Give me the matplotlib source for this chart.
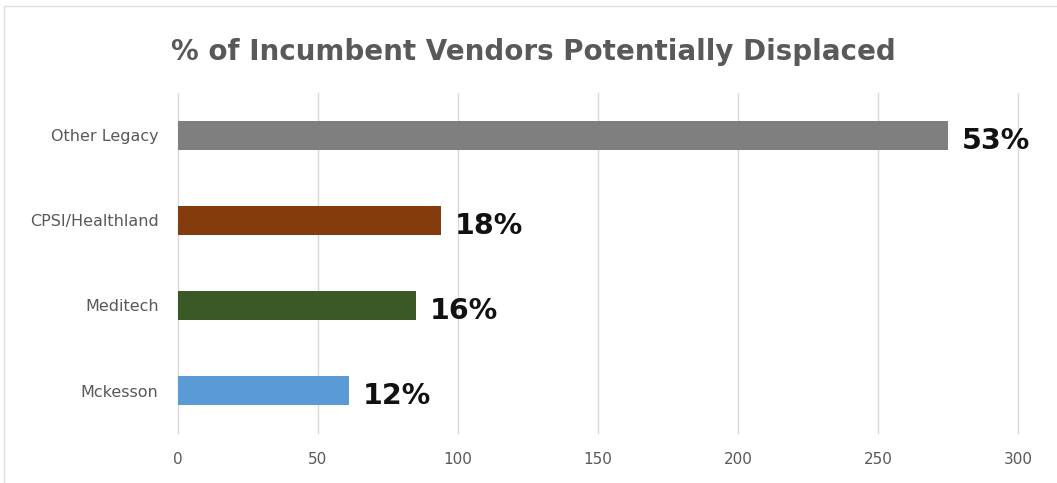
import matplotlib
matplotlib.use("Agg")
import matplotlib.pyplot as plt
from matplotlib.patches import Rectangle

# data (axis units, bottom -> top)
vendors = ["Mckesson", "Meditech", "CPSI/Healthland", "Other Legacy"]
bar_values = [61, 85, 94, 275]
pct_labels = ["12%", "16%", "18%", "53%"]
colors = ["#5b9bd5", "#3b5926", "#843c0c", "#7f7f7f"]
xticks = [0, 50, 100, 150, 200, 250, 300]

fig = plt.figure(figsize=(10.57, 4.83), dpi=100)
ax = fig.add_axes([0.1684, 0.1035, 0.7947, 0.704])

ax.barh(range(len(vendors)), bar_values, height=0.34, color=colors, zorder=3)
for i, (v, lab) in enumerate(zip(bar_values, pct_labels)):
    ax.text(v + 5, i - 0.07, lab, va="center", ha="left", fontsize=20.5,
            fontweight="bold", color="#111111", zorder=4)

ax.set_xlim(0, 300)
ax.set_ylim(-0.5, len(vendors) - 0.5)
ax.set_xticks(xticks)
ax.set_yticks(range(len(vendors)))
ax.set_yticklabels(vendors)
ax.tick_params(axis="both", length=0, colors="#595959")
ax.tick_params(axis="x", pad=14, labelsize=11)
ax.tick_params(axis="y", pad=14, labelsize=11.5)
ax.grid(axis="x", color="#d9d9d9", lw=1, zorder=0)
for g in ax.xaxis.get_gridlines():
    g.set_clip_on(False)
for s in ax.spines.values():
    s.set_visible(False)

fig.text(0.505, 0.892, "% of Incumbent Vendors Potentially Displaced",
         ha="center", va="center", fontsize=20, fontweight="bold",
         color="#595959", family=["Liberation Sans Narrow", "DejaVu Sans"])

# faint chart frame
fig.patches.append(Rectangle((0.004, -0.01), 1.0, 0.998, transform=fig.transFigure,
                             fill=False, edgecolor="#e0e0e0", lw=1))

plt.savefig("out.png", dpi=100)
plt.close()
